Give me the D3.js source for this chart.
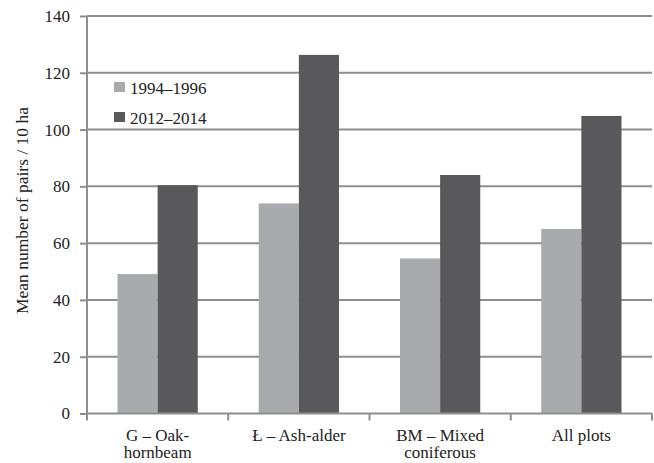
<!DOCTYPE html>
<html><head><meta charset="utf-8">
<script src="https://cdn.jsdelivr.net/npm/d3@7"></script>
<style>body{margin:0;background:#fff}svg{display:block}</style>
</head><body>
<svg id="c" width="654" height="463"></svg>
<script>
const categories = [["G – Oak-","hornbeam"],["Ł – Ash-alder"],["BM – Mixed","coniferous"],["All plots"]];
const seriesNames = ["1994–1996","2012–2014"];
const series1994 = [49.1, 74.0, 54.6, 65.0];
const series2012 = [80.4, 126.3, 84.0, 104.8];
const yTicks = [0,20,40,60,80,100,120,140];
const colors = ["#a9aaad","#59595b"];

const svg = d3.select("#c");
const m = {l:87, r:652, t:16, b:413.5};
const x = d3.scaleBand().domain(d3.range(categories.length)).range([m.l, m.r]).paddingInner(0).paddingOuter(0);
const x1 = d3.scaleBand().domain([0,1]).range([0, x.bandwidth()]).paddingOuter(0.76).paddingInner(0);
const y = d3.scaleLinear().domain([0,140]).range([m.b, m.t]);
const font = "Liberation Serif";
const gc = "#8e8e8e";
const tc = "#222";

// gridlines
svg.append("g").selectAll("line").data(yTicks.filter(d=>d>0)).join("line")
  .attr("x1", m.l).attr("x2", m.r).attr("y1", d=>y(d)).attr("y2", d=>y(d))
  .attr("stroke", gc).attr("stroke-width", 2);

// bars
const data = [series1994, series2012];
categories.forEach((c,i)=>{
  data.forEach((s,j)=>{
    svg.append("rect").attr("x", x(i)+x1(j)).attr("width", x1.bandwidth())
      .attr("y", y(s[i])).attr("height", y(0)-y(s[i])).attr("fill", colors[j]);
  });
});

// y axis
const ya = svg.append("g").attr("transform", `translate(${m.l},0)`)
  .call(d3.axisLeft(y).tickValues(yTicks).tickSize(7).tickPadding(10));
ya.select(".domain").attr("stroke", gc).attr("stroke-width", 2).attr("d", `M0,${m.b}V${m.t}`);
ya.selectAll(".tick line").attr("stroke", gc).attr("stroke-width", 2);
ya.selectAll(".tick text").style("font-family", font).style("font-size", "17px").attr("fill", tc);

// x axis
const xa = svg.append("g").attr("transform", `translate(0,${m.b})`);
xa.append("line").attr("x1", m.l).attr("x2", m.r).attr("stroke", gc).attr("stroke-width", 2);
xa.selectAll("line.t").data(d3.range(categories.length+1)).join("line").attr("class","t")
  .attr("x1", d=> d<categories.length ? x(d) : m.r).attr("x2", d=> d<categories.length ? x(d) : m.r)
  .attr("y1", 0).attr("y2", 7).attr("stroke", gc).attr("stroke-width", 2);
categories.forEach((c,i)=>{
  c.forEach((line,k)=>{
    svg.append("text").style("font-family", font).style("font-size", "17px").attr("fill", tc)
      .attr("text-anchor","middle")
      .attr("x", x(i)+x.bandwidth()/2).attr("y", 441 + k*17).text(line);
  });
});

// y label
svg.append("text").attr("transform", `translate(28,210.5) rotate(-90)`)
  .attr("text-anchor","middle").style("font-family", font).style("font-size", "17.5px").attr("fill", tc)
  .text("Mean number of pairs / 10 ha");

// legend
seriesNames.forEach((n,j)=>{
  const ly = 82 + j*30;
  svg.append("rect").attr("x",114).attr("y",ly).attr("width",11).attr("height",10).attr("fill",colors[j]);
  svg.append("text").attr("x",130).attr("y",ly+12).style("font-family", font).style("font-size","17px")
    .attr("fill", tc).text(n);
});
</script>
</body></html>
